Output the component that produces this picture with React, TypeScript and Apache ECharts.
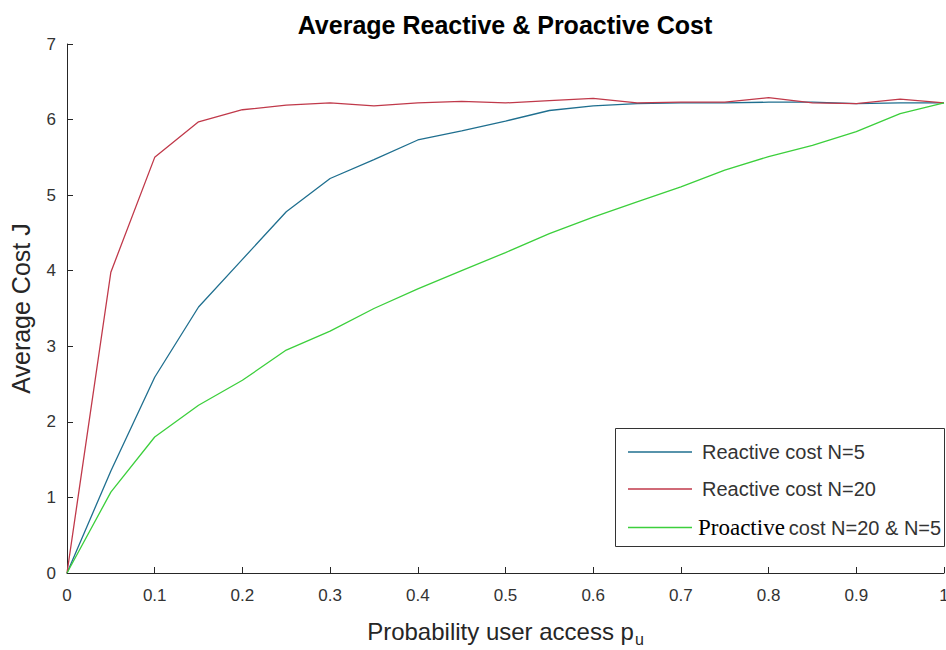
import React, { useEffect, useRef } from "react";
import * as echarts from "echarts";

const pValues = [0, 0.05, 0.1, 0.15, 0.2, 0.25, 0.3, 0.35, 0.4, 0.45, 0.5, 0.55, 0.6, 0.65, 0.7, 0.75, 0.8, 0.85, 0.9, 0.95, 1];
const reactiveN5 = [0, 1.35, 2.59, 3.52, 4.15, 4.78, 5.22, 5.47, 5.73, 5.85, 5.98, 6.12, 6.18, 6.21, 6.22, 6.22, 6.23, 6.23, 6.21, 6.22, 6.22];
const reactiveN20 = [0, 3.98, 5.5, 5.97, 6.13, 6.19, 6.22, 6.18, 6.22, 6.24, 6.22, 6.25, 6.28, 6.22, 6.23, 6.23, 6.29, 6.22, 6.21, 6.27, 6.22];
const proactive = [0, 1.07, 1.8, 2.22, 2.55, 2.95, 3.2, 3.5, 3.76, 4.0, 4.24, 4.49, 4.71, 4.91, 5.11, 5.33, 5.51, 5.66, 5.84, 6.08, 6.22];

const seriesNames = ["Reactive cost N=5", "Reactive cost N=20", "Proactive cost N=20 & N=5"];
const seriesColors = ["#1f6f8f", "#c0394a", "#3ccf3c"];
const titleText = "Average Reactive & Proactive Cost";
const xName = "Probability user access p";
const xNameSub = "u";
const yName = "Average Cost J";

const pairs = (ys: number[]) => pValues.map((p, i) => [p, ys[i]]);

export default function App() {
  const ref = useRef<HTMLDivElement>(null);
  useEffect(() => {
    const chart = echarts.init(ref.current!, null, { renderer: "svg" });
    const sans = "Liberation Sans, Arial, sans-serif";
    chart.setOption({
      animation: false,
      backgroundColor: "#ffffff",
      title: {
        text: titleText,
        left: 500,
        top: 7,
        textAlign: "center",
        textStyle: { fontFamily: sans, fontWeight: "bold", fontSize: 25, color: "#000" },
      },
      grid: { left: 67, right: 2, top: 44, bottom: 77, containLabel: false, outerBoundsMode: "none" },
      xAxis: {
        type: "value",
        min: 0,
        max: 1,
        interval: 0.1,
        name: "{a|" + xName + "}{b|" + xNameSub + "}",
        nameLocation: "middle",
        nameGap: 42,
        nameTextStyle: {
          rich: {
            a: { fontFamily: sans, fontSize: 24, color: "#262626" },
            b: { fontFamily: sans, fontSize: 16, color: "#262626", padding: [16, 0, 0, 1] },
          },
        },
        axisLine: { show: true, onZero: false, lineStyle: { color: "#262626", width: 1 } },
        axisTick: { show: true, inside: true, length: 6, lineStyle: { color: "#262626" } },
        axisLabel: { fontFamily: sans, fontSize: 17, color: "#333", margin: 14 },
        splitLine: { show: false },
      },
      yAxis: {
        type: "value",
        min: 0,
        max: 7,
        interval: 1,
        name: yName,
        nameLocation: "middle",
        nameGap: 34,
        nameTextStyle: { fontFamily: sans, fontSize: 25, color: "#262626" },
        axisLine: { show: true, lineStyle: { color: "#262626", width: 1 } },
        axisTick: { show: true, inside: true, length: 6, lineStyle: { color: "#262626" } },
        axisLabel: { fontFamily: sans, fontSize: 17, color: "#333", margin: 11 },
        splitLine: { show: false },
      },
      graphic: [
        {
          type: "rect",
          silent: true,
          z: 10,
          shape: { x: 615.5, y: 428.5, width: 329, height: 118 },
          style: { fill: "#fff", stroke: "#333", lineWidth: 1 },
        },
      ],
      legend: {
        orient: "vertical",
        left: 623,
        top: 437,
        padding: 5,
        z: 20,
        icon: "rect",
        itemWidth: 64,
        itemHeight: 1.5,
        itemGap: 17,
        data: seriesNames.map((n, i) =>
          i === 2 ? { name: n, textStyle: { padding: [0, 0, 0, 1] } } : { name: n }
        ),
        formatter: (name: string) =>
          name === seriesNames[2] ? "{s|Proactive}{g|cost N=20 & N=5}" : name,
        textStyle: {
          fontFamily: sans,
          fontSize: 20,
          lineHeight: 20,
          color: "#333",
          padding: [0, 0, 0, 5],
          rich: {
            s: { fontFamily: "Liberation Serif, Times New Roman, serif", fontSize: 23, lineHeight: 20, color: "#000" },
            g: { fontFamily: sans, fontSize: 20, lineHeight: 20, color: "#333", padding: [0, 0, 0, 4] },
          },
        },
      },
      series: [reactiveN5, reactiveN20, proactive].map((ys, i) => ({
        name: seriesNames[i],
        type: "line",
        data: pairs(ys),
        showSymbol: false,
        symbol: "none",
        color: seriesColors[i],
        lineStyle: { color: seriesColors[i], width: 1.3 },
      })),
    });
    return () => chart.dispose();
  }, []);
  return <div ref={ref} style={{ position: "fixed", left: 0, top: 0, width: 946, height: 650 }} />;
}
